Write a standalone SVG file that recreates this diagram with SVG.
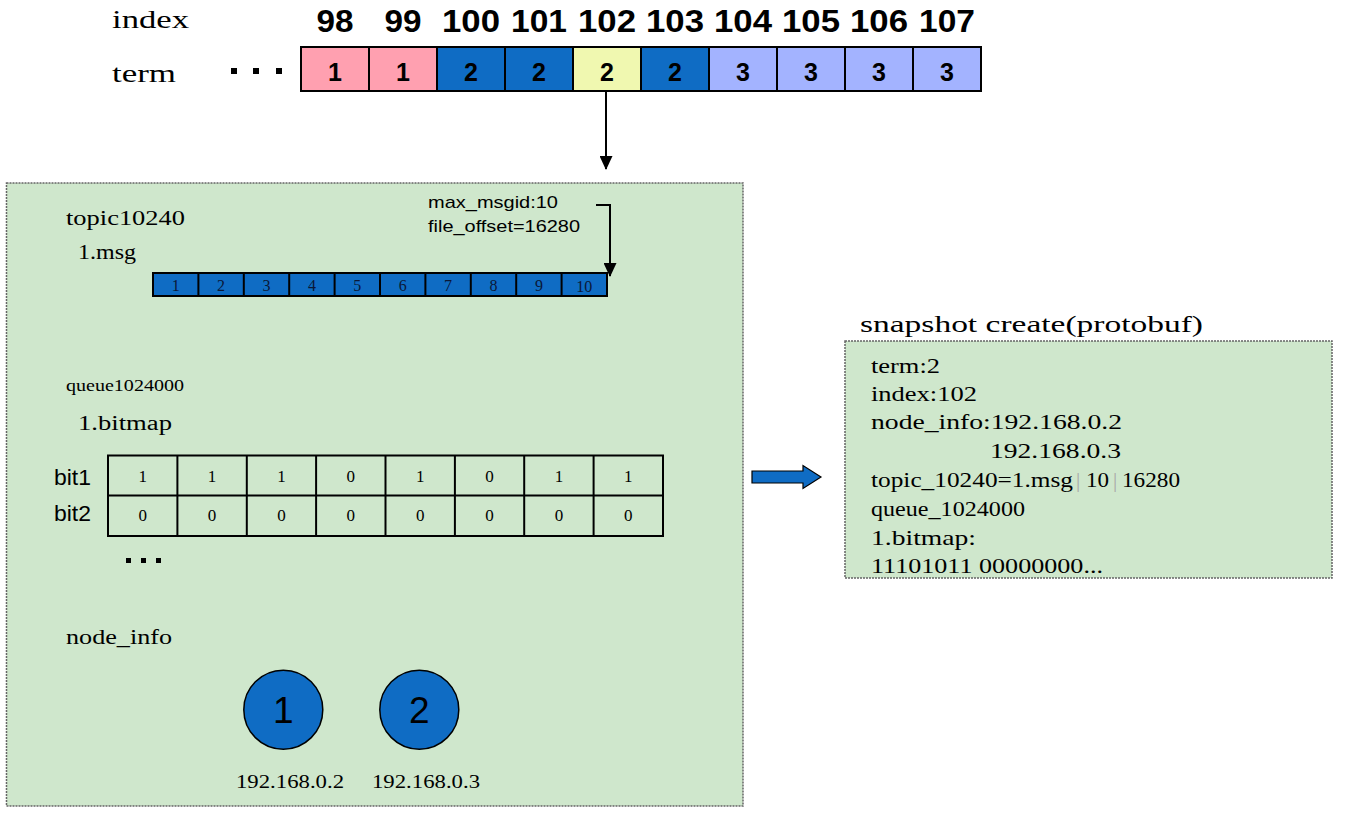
<svg xmlns="http://www.w3.org/2000/svg" width="1345" height="815" viewBox="0 0 1345 815">
<style>
.serif{font-family:"Liberation Serif","DejaVu Serif",serif;fill:#000}
.sans{font-family:"Liberation Sans",Arial,sans-serif;fill:#000}
.bold{font-weight:bold}
.cell{stroke:#000;stroke-width:2}
.pink{fill:#FFA0B0}.blue{fill:#0F6CC4}.yellow{fill:#F0F8B0}.lav{fill:#A3B3FF}
.panel{fill:#CFE7CC;stroke:#666;stroke-width:1.5;stroke-dasharray:2 1}
.line{stroke:#000;stroke-width:2;fill:none}
.mid{text-anchor:middle}
</style>
<defs>
<marker id="ah" markerWidth="14" markerHeight="13" refX="13" refY="6.5" orient="auto" markerUnits="userSpaceOnUse" viewBox="0 0 14 13">
<path d="M0,0 L14,6.5 L0,13 Z" fill="#000"/>
</marker>
</defs>
<rect width="1345" height="815" fill="#fff"/>

<g id="log-header">
<text class="serif" x="112" y="28" font-size="26" textLength="77" lengthAdjust="spacingAndGlyphs">index</text>
<text class="serif" x="112" y="82" font-size="26" textLength="64" lengthAdjust="spacingAndGlyphs">term</text>
<rect x="231" y="68" width="6" height="6" fill="#000"/>
<rect x="253" y="68" width="6" height="6" fill="#000"/>
<rect x="276" y="68" width="6" height="6" fill="#000"/>
</g>

<g id="log-index" class="sans bold mid" font-size="31">
<text x="335" y="32" textLength="37" lengthAdjust="spacingAndGlyphs">98</text>
<text x="403" y="32" textLength="37" lengthAdjust="spacingAndGlyphs">99</text>
<text x="471" y="32" textLength="58" lengthAdjust="spacingAndGlyphs">100</text>
<text x="539" y="32" textLength="56" lengthAdjust="spacingAndGlyphs">101</text>
<text x="607" y="32" textLength="58" lengthAdjust="spacingAndGlyphs">102</text>
<text x="675" y="32" textLength="58" lengthAdjust="spacingAndGlyphs">103</text>
<text x="743" y="32" textLength="58" lengthAdjust="spacingAndGlyphs">104</text>
<text x="811" y="32" textLength="58" lengthAdjust="spacingAndGlyphs">105</text>
<text x="879" y="32" textLength="58" lengthAdjust="spacingAndGlyphs">106</text>
<text x="947" y="32" textLength="56" lengthAdjust="spacingAndGlyphs">107</text>
</g>

<g id="log-terms">
<rect class="cell pink" x="301" y="47" width="68" height="44"/>
<rect class="cell pink" x="369" y="47" width="68" height="44"/>
<rect class="cell blue" x="437" y="47" width="68" height="44"/>
<rect class="cell blue" x="505" y="47" width="68" height="44"/>
<rect class="cell yellow" x="573" y="47" width="68" height="44"/>
<rect class="cell blue" x="641" y="47" width="68" height="44"/>
<rect class="cell lav" x="709" y="47" width="68" height="44"/>
<rect class="cell lav" x="777" y="47" width="68" height="44"/>
<rect class="cell lav" x="845" y="47" width="68" height="44"/>
<rect class="cell lav" x="913" y="47" width="68" height="44"/>
<g class="sans bold mid" font-size="25">
<text x="335" y="81">1</text><text x="403" y="81">1</text>
<text x="471" y="81">2</text><text x="539" y="81">2</text>
<text x="607" y="81">2</text><text x="675" y="81">2</text>
<text x="743" y="81">3</text><text x="811" y="81">3</text>
<text x="879" y="81">3</text><text x="947" y="81">3</text>
</g>
</g>

<g id="state-panel">
<rect class="panel" x="6.5" y="183" width="736.5" height="623"/>
<text class="serif" x="66" y="225" font-size="20" textLength="119" lengthAdjust="spacingAndGlyphs">topic10240</text>
<text class="serif" x="78" y="259" font-size="20" textLength="58" lengthAdjust="spacingAndGlyphs">1.msg</text>
<text class="sans" x="428" y="208" font-size="17" textLength="130" lengthAdjust="spacingAndGlyphs">max_msgid:10</text>
<text class="sans" x="428" y="232" font-size="17" textLength="152" lengthAdjust="spacingAndGlyphs">file_offset=16280</text>
</g>

<g id="msg-array">
<rect x="153" y="273" width="454" height="23" class="blue" stroke="#000" stroke-width="2"/>
<g stroke="#000" stroke-width="2">
<line x1="198.4" y1="273" x2="198.4" y2="296"/>
<line x1="243.8" y1="273" x2="243.8" y2="296"/>
<line x1="289.2" y1="273" x2="289.2" y2="296"/>
<line x1="334.6" y1="273" x2="334.6" y2="296"/>
<line x1="380" y1="273" x2="380" y2="296"/>
<line x1="425.4" y1="273" x2="425.4" y2="296"/>
<line x1="470.8" y1="273" x2="470.8" y2="296"/>
<line x1="516.2" y1="273" x2="516.2" y2="296"/>
<line x1="561.6" y1="273" x2="561.6" y2="296"/>
</g>
<g class="serif mid" font-size="16" style="fill:#0A1838">
<text x="175.7" y="291">1</text><text x="221.1" y="291">2</text>
<text x="266.5" y="291">3</text><text x="311.9" y="291">4</text>
<text x="357.3" y="291">5</text><text x="402.7" y="291">6</text>
<text x="448.1" y="291">7</text><text x="493.5" y="291">8</text>
<text x="538.9" y="291">9</text><text x="584.3" y="292">10</text>
</g>
</g>

<g id="bitmap">
<text class="serif" x="66" y="391" font-size="17" textLength="118" lengthAdjust="spacingAndGlyphs">queue1024000</text>
<text class="serif" x="78" y="430" font-size="20" textLength="94" lengthAdjust="spacingAndGlyphs">1.bitmap</text>
<text class="sans" x="54" y="485" font-size="22" textLength="37" lengthAdjust="spacingAndGlyphs">bit1</text>
<text class="sans" x="54" y="521" font-size="22" textLength="37" lengthAdjust="spacingAndGlyphs">bit2</text>
<rect x="108" y="455.5" width="555" height="80.5" fill="none" stroke="#000" stroke-width="2"/>
<g stroke="#000" stroke-width="2">
<line x1="108" y1="495.5" x2="663" y2="495.5"/>
<line x1="177.4" y1="455.5" x2="177.4" y2="536"/>
<line x1="246.8" y1="455.5" x2="246.8" y2="536"/>
<line x1="316.1" y1="455.5" x2="316.1" y2="536"/>
<line x1="385.5" y1="455.5" x2="385.5" y2="536"/>
<line x1="454.9" y1="455.5" x2="454.9" y2="536"/>
<line x1="524.2" y1="455.5" x2="524.2" y2="536"/>
<line x1="593.6" y1="455.5" x2="593.6" y2="536"/>
</g>
<g class="serif mid" font-size="17">
<text x="142.7" y="482">1</text><text x="212.1" y="482">1</text><text x="281.5" y="482">1</text><text x="350.8" y="482">0</text>
<text x="420.2" y="482">1</text><text x="489.6" y="482">0</text><text x="558.9" y="482">1</text><text x="628.3" y="482">1</text>
<text x="142.7" y="521">0</text><text x="212.1" y="521">0</text><text x="281.5" y="521">0</text><text x="350.8" y="521">0</text>
<text x="420.2" y="521">0</text><text x="489.6" y="521">0</text><text x="558.9" y="521">0</text><text x="628.3" y="521">0</text>
</g>
<rect x="126" y="558" width="5" height="5" fill="#000"/>
<rect x="141" y="558" width="5" height="5" fill="#000"/>
<rect x="156" y="558" width="5" height="5" fill="#000"/>
</g>

<g id="nodes">
<text class="serif" x="66" y="644" font-size="20" textLength="106" lengthAdjust="spacingAndGlyphs">node_info</text>
<g id="node-1">
<circle cx="283.3" cy="709.7" r="39.5" class="blue" stroke="#000" stroke-width="1.5"/>
<text class="sans mid" x="283.3" y="723" font-size="37">1</text>
<text class="serif" x="236" y="788" font-size="18" textLength="108" lengthAdjust="spacingAndGlyphs">192.168.0.2</text>
</g>
<g id="node-2">
<circle cx="419.3" cy="709.7" r="39.5" class="blue" stroke="#000" stroke-width="1.5"/>
<text class="sans mid" x="419.3" y="723" font-size="37">2</text>
<text class="serif" x="372" y="788" font-size="18" textLength="108" lengthAdjust="spacingAndGlyphs">192.168.0.3</text>
</g>
</g>

<g id="snapshot">
<text class="serif" x="860" y="332" font-size="24" textLength="343" lengthAdjust="spacingAndGlyphs">snapshot create(protobuf)</text>
<rect class="panel" x="845" y="341" width="487" height="237"/>
<g class="serif" font-size="21">
<text x="871" y="373" textLength="69" lengthAdjust="spacingAndGlyphs">term:2</text>
<text x="871" y="401" textLength="106" lengthAdjust="spacingAndGlyphs">index:102</text>
<text x="871" y="429" textLength="251" lengthAdjust="spacingAndGlyphs">node_info:192.168.0.2</text>
<text x="990" y="458" textLength="131" lengthAdjust="spacingAndGlyphs">192.168.0.3</text>
<text x="871" y="487"><tspan x="871" textLength="202" lengthAdjust="spacingAndGlyphs">topic_10240=1.msg</tspan><tspan x="1076" style="fill:#A8A8A8">|</tspan><tspan x="1086" textLength="23" lengthAdjust="spacingAndGlyphs">10</tspan><tspan x="1113" style="fill:#A8A8A8">|</tspan><tspan x="1122" textLength="58" lengthAdjust="spacingAndGlyphs">16280</tspan></text>
<text x="871" y="516" textLength="154" lengthAdjust="spacingAndGlyphs">queue_1024000</text>
<text x="871" y="545" textLength="105" lengthAdjust="spacingAndGlyphs">1.bitmap:</text>
<text x="871" y="573" textLength="232" lengthAdjust="spacingAndGlyphs">11101011 00000000...</text>
</g>
</g>

<g id="connectors">
<line class="line" x1="606" y1="92" x2="606" y2="169" marker-end="url(#ah)"/>
<polyline class="line" points="596,205 610,205 610,276" marker-end="url(#ah)"/>
<path d="M752,471 L803,471 L803,465.5 L821,477 L803,488.5 L803,483 L752,483 Z" fill="#0F6CC4" stroke="#000" stroke-width="1.2"/>
</g>
</svg>
